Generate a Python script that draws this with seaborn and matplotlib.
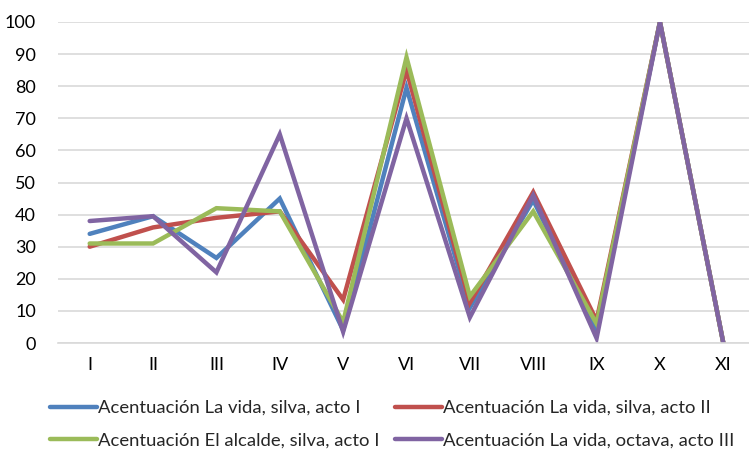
import matplotlib
matplotlib.use("Agg")
import matplotlib.pyplot as plt
import seaborn as sns
import pandas as pd

categories = ["I", "II", "III", "IV", "V", "VI", "VII", "VIII", "IX", "X", "XI"]
vida_silva_I = [34, 39.5, 26.5, 45, 4, 79.5, 11, 44.5, 4, 100, 0]
vida_silva_II = [30, 36, 39, 41, 13.5, 85, 12.5, 47, 7, 100, 0]
alcalde_silva_I = [31, 31, 42, 41, 6.5, 89, 14.5, 41, 6, 100, 0]
vida_octava_III = [38, 39.5, 22, 65, 3.5, 70, 8, 46, 1.5, 100, 0]

series_names = [
    "Acentuación La vida, silva, acto I",
    "Acentuación La vida, silva, acto II",
    "Acentuación El alcalde, silva, acto I",
    "Acentuación La vida, octava, acto III",
]
colors = ["#4F81BD", "#C0504D", "#9BBB59", "#8064A2"]

rows = []
for name, vals in zip(series_names, [vida_silva_I, vida_silva_II, alcalde_silva_I, vida_octava_III]):
    for i, (c, v) in enumerate(zip(categories, vals)):
        rows.append({"pos": i, "cat": c, "value": v, "serie": name})
df = pd.DataFrame(rows)

sns.set_theme(style="white")
plt.rcParams["font.family"] = ["Lato", "DejaVu Sans"]

fig = plt.figure(figsize=(7.49, 4.5), dpi=100)
ax = fig.add_axes([58 / 749, 1 - 343 / 450, 697 / 749, 321 / 450])

sns.lineplot(data=df, x="pos", y="value", hue="serie", palette=colors,
             hue_order=series_names, linewidth=3.2, ax=ax, legend=True)
for ln in ax.get_lines():
    ln.set_solid_joinstyle("miter")

ax.set_xlim(-0.5, len(categories) - 0.5)
ax.set_ylim(0, 100)
ax.set_yticks(range(0, 101, 10))
ax.set_xticks(range(len(categories)))
ax.set_xticklabels(categories)
ax.yaxis.grid(True, color="#D9D9D9", linewidth=1.2)
ax.set_axisbelow(True)
for s in ["top", "right", "left"]:
    ax.spines[s].set_visible(False)
ax.spines["bottom"].set_color("#D9D9D9")
ax.spines["bottom"].set_linewidth(1.2)
ax.tick_params(axis="both", length=0, labelsize=13, colors="#000000")
ax.tick_params(axis="y", pad=16)
ax.tick_params(axis="x", pad=10)
ax.set_xlabel("")
ax.set_ylabel("")

handles, labels = ax.get_legend_handles_labels()
order = [0, 2, 1, 3]
ax.legend([handles[i] for i in order], [labels[i] for i in order], ncol=2, loc="upper left",
          bbox_to_anchor=(50 / 749, 1 - 400 / 450),
          bbox_transform=fig.transFigure, frameon=False, fontsize=13.3,
          handlelength=2.55, handletextpad=0.05, columnspacing=0.85, labelspacing=0.88,
          borderaxespad=0, borderpad=0)

fig.savefig("out.png", dpi=100)
